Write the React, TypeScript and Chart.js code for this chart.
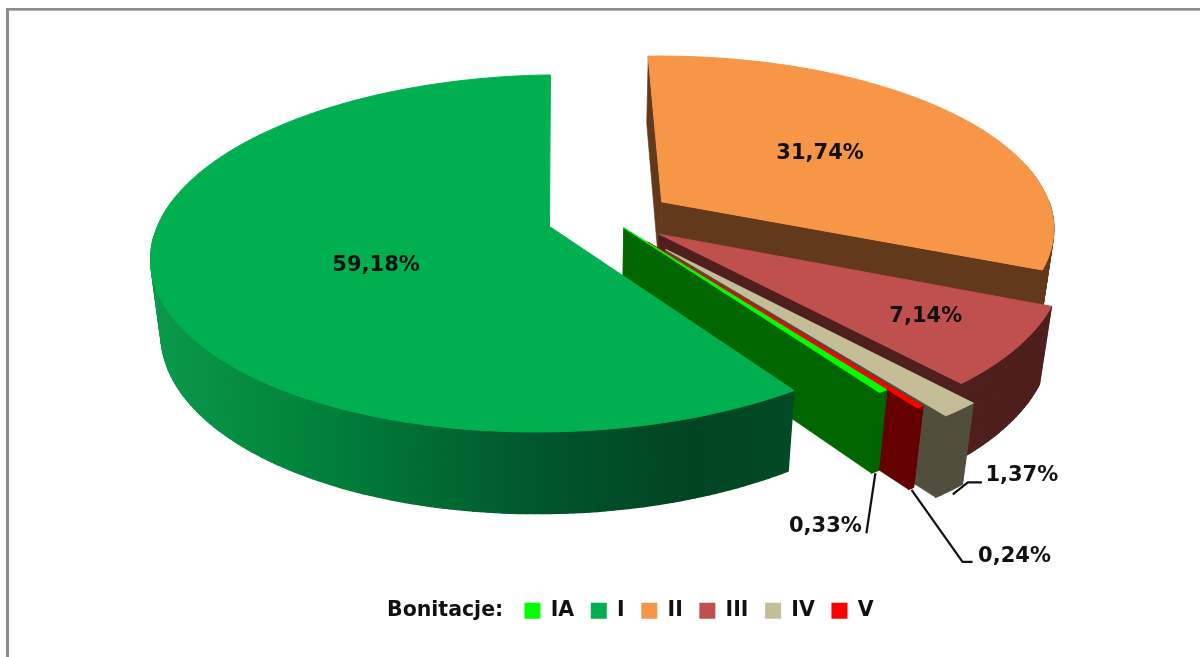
import React, { useEffect, useRef } from "react";
import { Chart, registerables } from "chart.js";

Chart.register(...registerables);

const categories = ["IA", "I", "II", "III", "IV", "V"];
const shares = [0.33, 59.18, 31.74, 7.14, 1.37, 0.24];
const explosion = [0.07, 0.156, 0.168, 0.16, 0.23, 0.17];
const topColors = ["#00FF00", "#00B050", "#F79646", "#C0504D", "#C4BD97", "#FF0000"];
const wallColors = ["#006600", "#004A26", "#63391C", "#4F1F1D", "#524E3E", "#650000"];
const paintOrder = [2, 3, 4, 5, 0, 1];
const legendTitle = "Bonitacje:";

const FONT = '"DejaVu Sans"';
// perspective camera: pie radius 1 on the plane Z=0, lower face at Z=1
const CAM = { vx: 575, cx: 608, cy: 218, A: 391, B: 172, C: 76, k: 0.15, m: 0.024, s: -4 };
const project = (X: number, Y: number, Z: number) => {
  const w = 1 - CAM.k * Y + CAM.m * Z;
  return {
    x: CAM.vx + (CAM.A * X + (CAM.cx - CAM.vx)) / w,
    y: CAM.cy + (CAM.B * Y + CAM.s * X + CAM.C * Z) / w,
  };
};

// inner labels: radius fraction on the bisector + fine pixel shift
const inner: Record<number, { r: number; dx: number; dy: number }> = {
  1: { r: 0.45, dx: 0, dy: 14 },
  2: { r: 0.52, dx: 1, dy: -1 },
  3: { r: 0.74, dx: 8, dy: 1 },
};
// outer labels: leader path relative to the rim's bottom at the bisector, then text centre
const outer: Record<number, { path: number[][]; text: number[] }> = {
  0: { path: [[0.5, 1.5], [-8.5, 61.5]], text: [-41, -7] },
  4: { path: [[3.5, 3.5], [18.5, -8.5], [32.5, -8.5]], text: [40, -7] },
  5: { path: [[0.5, 1.5], [51.5, 73.5], [61.5, 73.5]], text: [42, -5] },
};

function piePlugin() {
  return {
    id: "pie3d",
    beforeDraw(chart: any) {
      const c = chart.ctx;
      c.save();
      c.fillStyle = "#fff";
      c.fillRect(0, 0, chart.width, chart.height);
      c.fillStyle = "#8c8c8c";
      c.fillRect(6, 8, chart.width - 6, 2);
      c.fillRect(6, 8, 3, chart.height - 8);
      c.fillStyle = "#b4b4b4";
      c.fillRect(9, 10, chart.width - 9, 1);
      c.restore();
    },
    beforeDatasetsDraw(chart: any) {
      const c = chart.ctx;
      const arcs = chart.getDatasetMeta(0).data;
      const geom = (i: number) => {
        const el = arcs[i];
        const e = el.options.offset;
        const a0 = el.startAngle;
        const a1 = el.endAngle;
        const mid = (a0 + a1) / 2;
        return { a0, a1, mid, ax: e * Math.cos(mid), ay: e * Math.sin(mid) };
      };
      const poly = (pts: { x: number; y: number }[], fill: any, lw = 0.6) => {
        c.beginPath();
        pts.forEach((p, j) => (j ? c.lineTo(p.x, p.y) : c.moveTo(p.x, p.y)));
        c.closePath();
        c.fillStyle = fill;
        c.strokeStyle = fill;
        c.lineWidth = lw;
        c.lineJoin = "round";
        c.fill();
        c.stroke();
      };
      for (const i of paintOrder) {
        const g = geom(i);
        const n = Math.max(2, Math.ceil(((g.a1 - g.a0) * 180) / Math.PI));
        const angleAt = (s: number) => g.a0 + ((g.a1 - g.a0) * s) / n;
        const rim = (Z: number) => {
          const out = [];
          for (let s = 0; s <= n; s++) {
            const a = angleAt(s);
            out.push(project(g.ax + Math.cos(a), g.ay + Math.sin(a), Z));
          }
          return out;
        };
        const top = rim(0);
        const low = rim(1);
        const apexT = project(g.ax, g.ay, 0);
        const apexB = project(g.ax, g.ay, 1);
        let wall: any = wallColors[i];
        if (i === 1) {
          const gr = c.createLinearGradient(150, 0, 790, 0);
          gr.addColorStop(0, "#0A9A4A");
          gr.addColorStop(0.28, "#007F3A");
          gr.addColorStop(0.62, "#00552C");
          gr.addColorStop(0.85, "#004522");
          gr.addColorStop(1, "#004A26");
          wall = gr;
        } else {
          poly([apexT, top[0], low[0], apexB], wallColors[i]);
          poly([apexT, top[n], low[n], apexB], wallColors[i]);
        }
        for (let s = 0; s < n; s++) {
          if (Math.sin(angleAt(s + 1)) < 0.02) continue; // back of the rim is hidden
          poly([top[s], top[s + 1], low[s + 1], low[s]], wall, 1.3);
        }
        for (let s = 0; s < n; s++) {
          const sinA = Math.sin(angleAt(s + 1));
          if (sinA >= 0.02 || sinA < -0.2) continue; // side of the rim: only its silhouette shows
          poly([top[s], top[s + 1], low[s + 1], low[s]], wall, 0.3);
        }
        poly([apexT, ...top], topColors[i], 1);
      }
      // labels
      c.save();
      c.fillStyle = "#111";
      c.strokeStyle = "#111";
      c.font = `bold 21px ${FONT}`;
      c.textAlign = "center";
      c.textBaseline = "middle";
      const data = chart.data.datasets[0].data;
      const fmt = (v: number) => v.toFixed(2).replace(".", ",") + "%";
      for (const k of Object.keys(inner)) {
        const i = Number(k);
        const g = geom(i);
        const s = inner[i];
        const p = project(g.ax + s.r * Math.cos(g.mid), g.ay + s.r * Math.sin(g.mid), 0);
        c.fillText(fmt(data[i]), p.x + s.dx, p.y + s.dy);
      }
      for (const k of Object.keys(outer)) {
        const i = Number(k);
        const g = geom(i);
        const s = outer[i];
        const p = project(g.ax + Math.cos(g.mid), g.ay + Math.sin(g.mid), 1);
        c.lineWidth = 2.2;
        c.beginPath();
        s.path.forEach((q, j) =>
          j ? c.lineTo(p.x + q[0], p.y + q[1]) : c.moveTo(p.x + q[0], p.y + q[1])
        );
        c.stroke();
        const last = s.path[s.path.length - 1];
        c.fillText(fmt(data[i]), p.x + last[0] + s.text[0], p.y + last[1] + s.text[1]);
      }
      c.restore();
      return false;
    },
    afterDraw(chart: any) {
      const c = chart.ctx;
      const box = chart.legend.legendHitBoxes[0];
      c.save();
      c.font = `bold 20.5px ${FONT}`;
      c.fillStyle = "#111";
      c.textAlign = "left";
      c.textBaseline = "middle";
      c.fillText(legendTitle, 387, box.top + box.height / 2);
      c.restore();
    },
  };
}

export default function App() {
  const ref = useRef<HTMLCanvasElement | null>(null);
  useEffect(() => {
    const chart = new Chart(ref.current as HTMLCanvasElement, {
      type: "pie",
      data: {
        labels: categories,
        datasets: [
          {
            data: shares,
            backgroundColor: topColors,
            borderWidth: 0,
            offset: explosion,
          },
        ],
      },
      options: {
        responsive: false,
        animation: false,
        rotation: -(shares[0] + shares[1]) * 3.6 - 0.4,
        layout: { padding: { left: 198, bottom: 26 } },
        plugins: {
          tooltip: { enabled: false },
          legend: {
            position: "bottom",
            labels: {
              boxWidth: 16,
              boxHeight: 16,
              padding: 16.6,
              color: "#111",
              font: { family: FONT, size: 20.5, weight: "bold" },
            },
          },
        },
      } as any,
      plugins: [piePlugin()],
    });
    return () => chart.destroy();
  }, []);
  return (
    <canvas
      ref={ref}
      width={1200}
      height={657}
      style={{ position: "fixed", left: 0, top: 0, display: "block" }}
    />
  );
}
